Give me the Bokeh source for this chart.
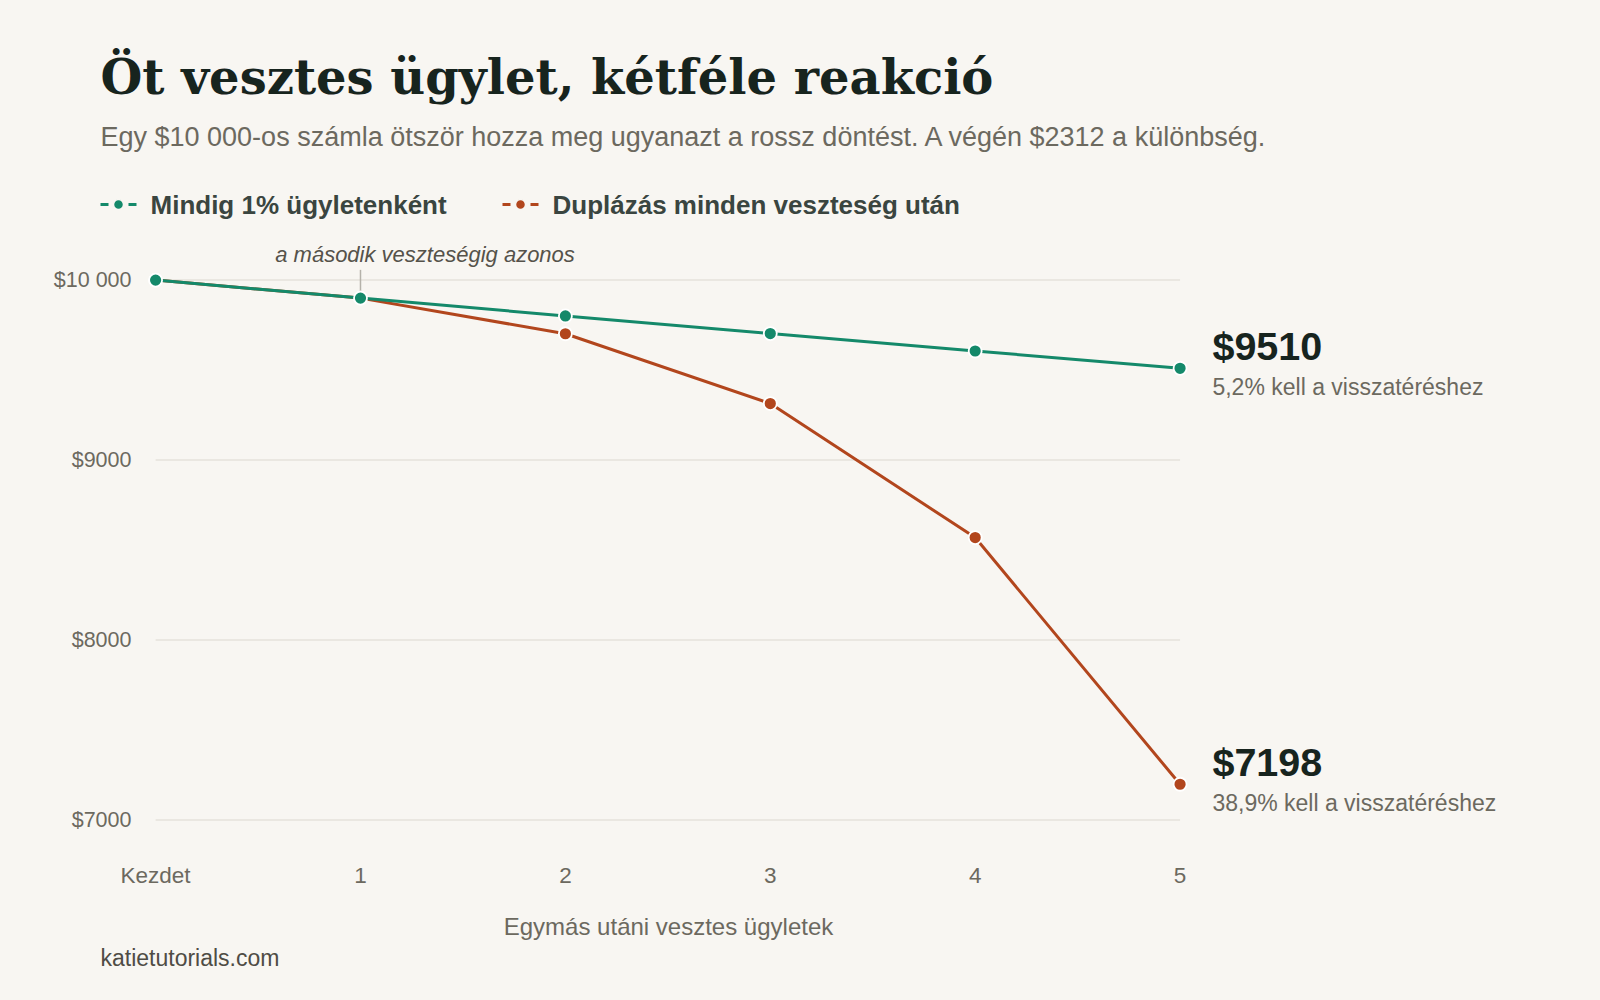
from bokeh.plotting import figure
from bokeh.layouts import column
from bokeh.models import Range1d, FixedTicker
from bokeh.core.properties import value
from bokeh.embed import file_html
from bokeh.resources import INLINE

# adatok
steps = [0, 1, 2, 3, 4, 5]
step_labels = ["Kezdet", "1", "2", "3", "4", "5"]
fixed_pct = [10000, 9900, 9801, 9703, 9606, 9510]
doubling = [10000, 9900, 9702, 9314, 8569, 7198]
y_ticks = [7000, 8000, 9000, 10000]
y_tick_labels = ["$7000", "$8000", "$9000", "$10 000"]
series_names = ["Mindig 1% ügyletenként", "Duplázás minden veszteség után"]
end_notes = ["5,2% kell a visszatéréshez", "38,9% kell a visszatéréshez"]

BG = "#f8f6f2"
GREEN = "#14896a"
RED = "#b2461d"
INK = "#17241e"
GRAY = "#6c695f"
SANS = "Liberation Sans"
W = 1600
PX = 0.1799  # pixel / dollár a fő diagramon


def blank(h, y0, y1):
    p = figure(width=W, height=h, x_range=Range1d(0, W), y_range=Range1d(y0, y1),
               output_backend="svg", toolbar_location=None,
               x_axis_location=None, y_axis_location=None, min_border=0)
    p.frame_align = False
    p.grid.visible = False
    p.outline_line_color = None
    p.background_fill_color = BG
    p.border_fill_color = BG
    return p


# fejléc: cím, alcím, jelmagyarázat (pixel koordináták, y lefelé nő)
head = blank(226, 226, 0)
head.text([100], [76], text=["Öt vesztes ügylet, kétféle reakció"],
          text_font=value("DejaVu Serif"), text_font_style="bold",
          text_font_size="48px", text_color=INK, text_baseline="middle")
head.text([100], [136], text=["Egy $10 000-os számla ötször hozza meg ugyanazt a rossz döntést. "
                              "A végén $2312 a különbség."],
          text_font=value(SANS), text_font_size="27px", text_color=GRAY,
          text_baseline="middle")
for x0, col, name in [(100, GREEN, series_names[0]), (502, RED, series_names[1])]:
    head.segment(x0, 204, x0 + 36, 204, line_color=col, line_width=3, line_dash="8 20")
    head.scatter([x0 + 18], [204], size=10, fill_color=col, line_color=BG, line_width=1.5)
    head.text([x0 + 50], [204], text=[name], text_font=value(SANS), text_font_style="bold",
              text_font_size="26px", text_color="#3a4540", text_baseline="middle")

# fő diagram
p = figure(width=W, height=672, x_range=Range1d(-0.0737, 7.052),
           y_range=Range1d(6802, 10298), output_backend="svg",
           toolbar_location=None, min_border_left=140, min_border_right=0,
           min_border_top=0, min_border_bottom=43)
p.frame_align = False
p.background_fill_color = BG
p.border_fill_color = BG
p.outline_line_color = None
p.grid.visible = False

p.segment([0] * len(y_ticks), y_ticks, [5] * len(y_ticks), y_ticks,
          line_color="#e6e2db", line_width=1.5)

for ax in (p.xaxis, p.yaxis):
    ax.axis_line_color = None
    ax.major_tick_line_color = None
    ax.minor_tick_line_color = None
    ax.major_label_text_font = SANS
    ax.major_label_text_color = GRAY
p.xaxis.major_label_text_font_size = "22.5px"
p.yaxis.major_label_text_font_size = "21.5px"
p.xaxis.ticker = FixedTicker(ticks=steps)
p.xaxis.major_label_overrides = dict(zip(steps, step_labels))
p.xaxis.major_label_standoff = 1
p.yaxis.ticker = FixedTicker(ticks=y_ticks)
p.yaxis.major_label_standoff = 3
p.yaxis.major_label_overrides = dict(zip(y_ticks, y_tick_labels))

# megjegyzés a második veszteségnél
p.segment(1, 10057, 1, 9938, line_color="#b5b2aa", line_width=1.5)
p.text([1.315], [10142], text=["a második veszteségig azonos"],
       text_font=value(SANS), text_font_style="italic", text_font_size="22px",
       text_color="#55524a", text_align="center", text_baseline="middle")

for vals, col in [(doubling, RED), (fixed_pct, GREEN)]:
    p.line(steps, vals, line_color=col, line_width=3)
    p.scatter(steps, vals, size=13, fill_color=col, line_color="white", line_width=1.8)

for vals, note in [(fixed_pct, end_notes[0]), (doubling, end_notes[1])]:
    p.text([5.158], [vals[-1] + 22 / PX], text=["$%d" % vals[-1]], text_font=value(SANS),
           text_font_style="bold", text_font_size="39.5px", text_color=INK,
           text_baseline="middle")
    p.text([5.158], [vals[-1] - 19 / PX], text=[note], text_font=value(SANS),
           text_font_size="23px", text_color=GRAY, text_baseline="middle")

# lábléc
foot = blank(102, 102, 0)
foot.text([668], [27.5], text=["Egymás utáni vesztes ügyletek"], text_font=value(SANS),
          text_font_size="24px", text_color=GRAY, text_align="center", text_baseline="middle")
foot.text([100], [59], text=["katietutorials.com"], text_font=value(SANS),
          text_font_size="23px", text_color="#4f4c45", text_baseline="middle")

layout = column(head, p, foot, spacing=0)
html = file_html(layout, INLINE, title="Öt vesztes ügylet")
html = html.replace("<head>", "<head><style>html,body{background:%s;}</style>" % BG, 1)
open("out.html", "w").write(html)
